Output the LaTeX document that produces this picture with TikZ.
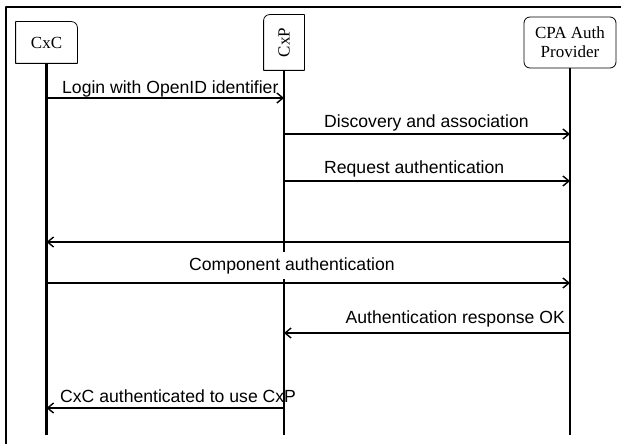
\documentclass[tikz,border=0pt]{standalone}
\usepackage{fontspec}
\setmainfont{Liberation Serif}
\newfontfamily\msgfont{Liberation Sans}
\usetikzlibrary{arrows.meta}
\begin{document}
\begin{tikzpicture}[x=1pt,y=-1pt,line join=round,>={Straight Barb[length=6pt,width=10pt]},
	actor/.style={line width=0.8pt,font=\fontsize{17}{19}\selectfont,align=center,inner sep=0pt},
	life/.style={line width=2.2pt},
	msg/.style={->,line width=1.4pt},
	lbl/.style={font=\msgfont\fontsize{17.6}{20}\selectfont,inner sep=0pt,anchor=base west}]
	\useasboundingbox (0,0) rectangle (621,444);
	\draw[line width=2pt] (6,444)--(6,7)--(621,7);
	% participants
	\node[actor,minimum width=61pt,minimum height=41pt] (cxc) at (46.5,42.5) {CxC};
	\node[actor,minimum width=40pt,minimum height=55pt] (cxp) at (284,42.5) {\rotatebox{90}{CxP}};
	\node[actor,draw,rounded corners=6pt,minimum width=92pt,minimum height=51pt] (cpa) at (570,42.5) {CPA Auth\\Provider};
	\draw[line width=0.8pt] (cxc.west) |- (cxc.north) [rounded corners=6pt] -| (cxc.east) [sharp corners] |- (cxc.south) -| (cxc.west) -- cycle;
	\draw[line width=0.8pt] (cxp.north) [rounded corners=6pt] -| (cxp.west) [sharp corners] |- (cxp.south) -| (cxp.east) |- (cxp.north) -- cycle;
	% lifelines
	\coordinate (cxcend) at (46.5,435);
	\coordinate (cxpend) at (284,435);
	\coordinate (cpaend) at (570,435);
	\draw[life] (cxc.south)--(cxcend);
	\draw[life] (cxp.south)--(cxpend);
	\draw[life] (cpa.south)--(cpaend);
	% messages
	\draw[msg] (cxcend |- 0,98)--(cxpend |- 0,98);
	\node[lbl] (login) at (62,93) {Login with OpenID identifier};
	\draw[msg] (cxpend |- 0,134)--(cpaend |- 0,134);
	\node[lbl] (disc) at (324,127) {Discovery and association};
	\draw[msg] (cxpend |- 0,181)--(cpaend |- 0,181);
	\node[lbl] (req) at (324,173) {Request authentication};
	\draw[msg] (cpaend |- 0,242)--(cxcend |- 0,242);
	\draw[msg] (cxcend |- 0,283)--(cpaend |- 0,283);
	\node[lbl,fill=white,inner ysep=5pt,inner xsep=2pt] (comp) at (187,270) {Component authentication};
	\draw[msg] (cpaend |- 0,333)--(cxpend |- 0,333);
	\node[lbl,anchor=base east] (resp) at (565,323) {Authentication response OK};
	\draw[msg] (cxpend |- 0,408)--(cxcend |- 0,408);
	\node[lbl] (done) at (60,402) {CxC authenticated to use CxP};
\end{tikzpicture}
\end{document}
